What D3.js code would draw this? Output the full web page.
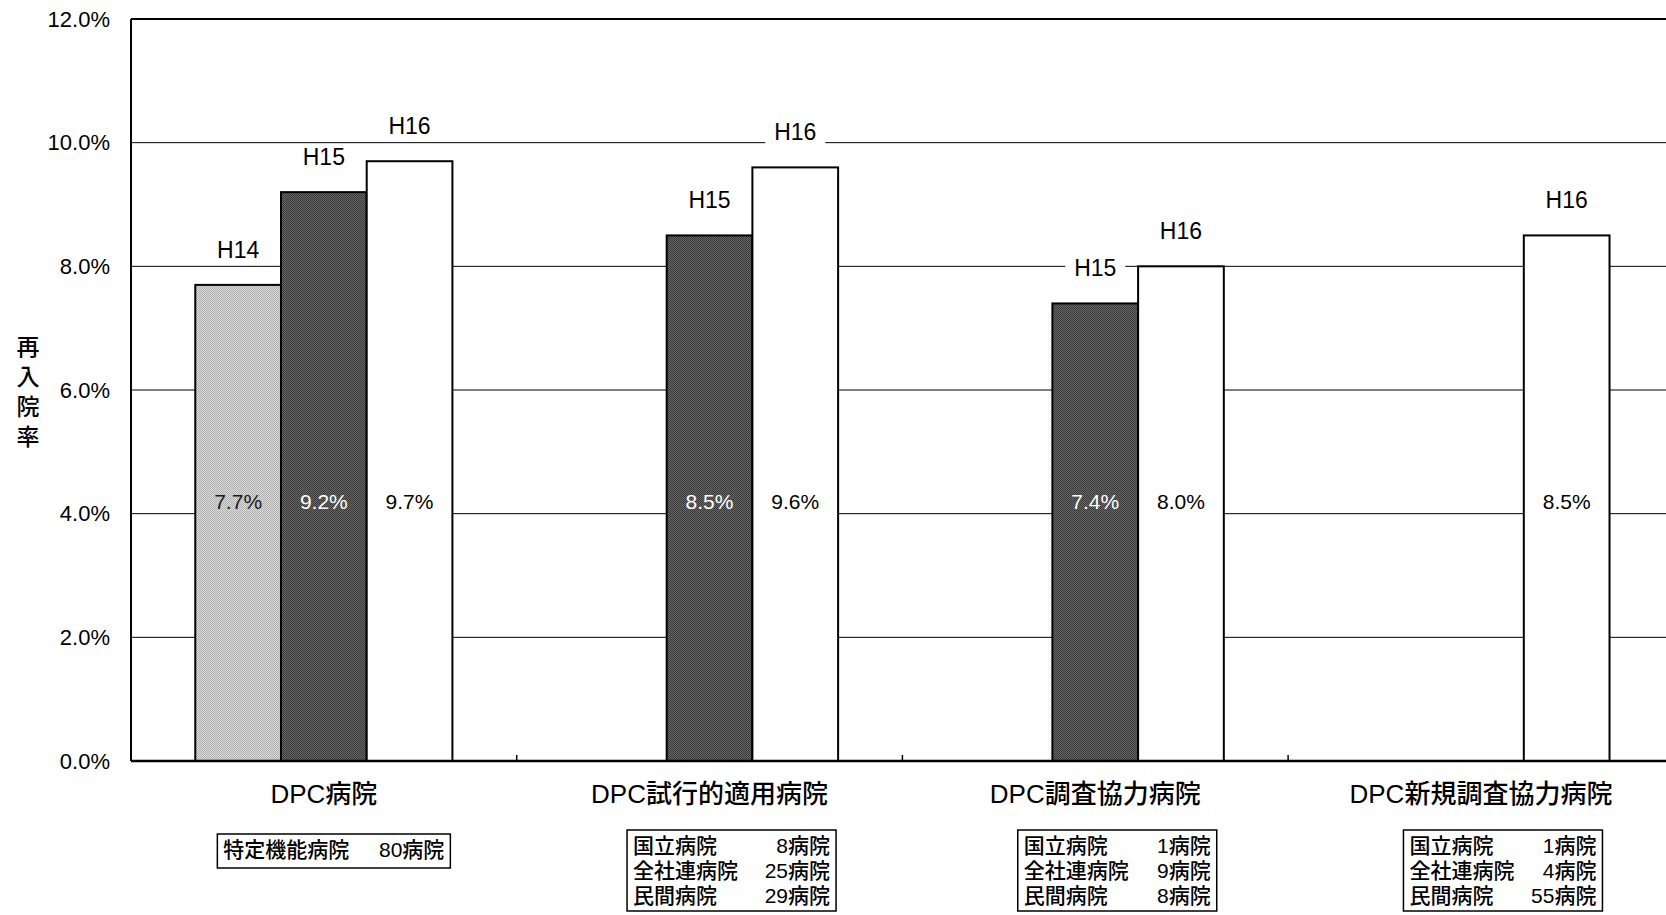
<!DOCTYPE html>
<html>
<head>
<meta charset="utf-8">
<script src="https://cdn.jsdelivr.net/npm/d3@7"></script>
<style>
  body { margin: 0; background: #fff; }
  svg { display: block; font-family: "Liberation Sans", "Noto Sans CJK JP", sans-serif; }
</style>
</head>
<body>
<div id="chart"></div>
<script>
// categories and series
const categories = ["DPC病院", "DPC試行的適用病院", "DPC調査協力病院", "DPC新規調査協力病院"];
const years = ["H14", "H15", "H16"];
const rateH14 = [7.7, null, null, null];
const rateH15 = [9.2, 8.5, 7.4, null];
const rateH16 = [9.7, 9.6, 8.0, 8.5];
const yTicks = [0, 2, 4, 6, 8, 10, 12];

// hospital counts under each category
const hospNames = [["特定機能病院"], ["国立病院", "全社連病院", "民間病院"], ["国立病院", "全社連病院", "民間病院"], ["国立病院", "全社連病院", "民間病院"]];
const hospCounts = [["80病院"], ["8病院", "25病院", "29病院"], ["1病院", "9病院", "8病院"], ["1病院", "4病院", "55病院"]];

const width = 1666, height = 915;
const plotLeft = 131, plotTop = 19, plotBottom = 761;

const svg = d3.select("#chart").append("svg")
  .attr("width", width)
  .attr("height", height);

// checker screen tones, like the scanned original
const defs = svg.append("defs");
function tone(id, base, dot) {
  const p = defs.append("pattern")
    .attr("id", id)
    .attr("width", 2).attr("height", 2)
    .attr("patternUnits", "userSpaceOnUse");
  p.append("rect").attr("width", 2).attr("height", 2).attr("fill", base);
  p.append("rect").attr("x", 0).attr("y", 0).attr("width", 1).attr("height", 1).attr("fill", dot);
  p.append("rect").attr("x", 1).attr("y", 1).attr("width", 1).attr("height", 1).attr("fill", dot);
}
tone("tone14", "#dadada", "#b0b0b0");
tone("tone15", "#666666", "#3a3a3a");

const x = d3.scaleBand()
  .domain(categories)
  .range([plotLeft, plotLeft + 4 * 385.7])
  .paddingInner(1 / 3)
  .paddingOuter(1 / 6);

const xs = d3.scaleBand()
  .domain(years)
  .range([0, x.bandwidth()]);

const y = d3.scaleLinear()
  .domain([0, 12])
  .range([plotBottom, plotTop]);

const fills = { H14: "url(#tone14)", H15: "url(#tone15)", H16: "#ffffff" };
const labelColor = { H14: "#1a1a1a", H15: "#ffffff", H16: "#000000" };

// gridlines
svg.append("g")
  .selectAll("line")
  .data(yTicks.filter(d => d > 0))
  .join("line")
  .attr("x1", plotLeft).attr("x2", width)
  .attr("y1", d => y(d)).attr("y2", d => y(d))
  .attr("stroke", "#000")
  .attr("stroke-width", d => d === 12 ? 2 : 1);

// y tick labels
svg.append("g")
  .selectAll("text")
  .data(yTicks)
  .join("text")
  .attr("x", 110)
  .attr("y", d => y(d))
  .attr("dy", "0.35em")
  .attr("text-anchor", "end")
  .style("font-size", "22px")
  .text(d => d.toFixed(1) + "%");

// y title, stacked vertically
svg.append("g")
  .selectAll("text")
  .data("再入院率".split(""))
  .join("text")
  .attr("x", 28)
  .attr("y", (d, i) => 347 + i * 30)
  .attr("dy", "0.35em")
  .attr("text-anchor", "middle")
  .style("font-size", "23px")
  .style("font-weight", 500)
  .text(d => d);

// bar data
const series = { H14: rateH14, H15: rateH15, H16: rateH16 };
const bars = [];
categories.forEach((c, i) => {
  years.forEach(yr => {
    const v = series[yr][i];
    if (v != null) bars.push({ cat: c, year: yr, value: v });
  });
});

const bx = d => x(d.cat) + xs(d.year);

svg.append("g")
  .selectAll("rect")
  .data(bars)
  .join("rect")
  .attr("x", bx)
  .attr("y", d => y(d.value))
  .attr("width", xs.bandwidth())
  .attr("height", d => plotBottom - y(d.value))
  .attr("fill", d => fills[d.year])
  .attr("stroke", "#000")
  .attr("stroke-width", 2);

// value labels inside bars
svg.append("g")
  .selectAll("text")
  .data(bars)
  .join("text")
  .attr("x", d => bx(d) + xs.bandwidth() / 2)
  .attr("y", y(4.2))
  .attr("dy", "0.35em")
  .attr("text-anchor", "middle")
  .attr("fill", d => labelColor[d.year])
  .style("font-size", "21px")
  .text(d => d.value.toFixed(1) + "%");

// year labels above bars, with white backing that breaks the gridline
const yl = svg.append("g")
  .selectAll("g")
  .data(bars)
  .join("g")
  .attr("transform", d => `translate(${bx(d) + xs.bandwidth() / 2},${y(d.value) - 35})`);
yl.append("rect")
  .attr("x", -30).attr("y", -13)
  .attr("width", 60).attr("height", 26)
  .attr("fill", "#fff");
yl.append("text")
  .attr("dy", "0.35em")
  .attr("text-anchor", "middle")
  .style("font-size", "23px")
  .text(d => d.year);

// axes lines
svg.append("line")
  .attr("x1", plotLeft).attr("x2", plotLeft)
  .attr("y1", plotTop).attr("y2", plotBottom)
  .attr("stroke", "#000").attr("stroke-width", 2);
svg.append("line")
  .attr("x1", plotLeft).attr("x2", width)
  .attr("y1", plotBottom).attr("y2", plotBottom)
  .attr("stroke", "#000").attr("stroke-width", 2.5);

// small ticks at category boundaries
svg.append("g")
  .selectAll("line")
  .data(categories.slice(1))
  .join("line")
  .attr("x1", d => x(d) - x.step() * x.paddingInner() / 2)
  .attr("x2", d => x(d) - x.step() * x.paddingInner() / 2)
  .attr("y1", plotBottom).attr("y2", plotBottom - 6)
  .attr("stroke", "#000").attr("stroke-width", 1.5);

// category labels
svg.append("g")
  .selectAll("text")
  .data(categories)
  .join("text")
  .attr("x", d => x(d) + x.bandwidth() / 2)
  .attr("y", 794)
  .attr("dy", "0.35em")
  .attr("text-anchor", "middle")
  .style("font-size", "26px")
  .style("font-weight", 500)
  .text(d => d);

// hospital boxes
categories.forEach((c, i) => {
  const names = hospNames[i], counts = hospCounts[i];
  const single = names.length === 1;
  const bw = single ? 233 : (i === 1 ? 209 : 199);
  const bh = single ? 34 : 81;
  const cx = x(c) + x.bandwidth() / 2 + (single ? 10 : 22);
  const bx0 = cx - bw / 2;
  const by0 = single ? 834 : 830;
  const g = svg.append("g");
  g.append("rect")
    .attr("x", bx0).attr("y", by0)
    .attr("width", bw).attr("height", bh)
    .attr("fill", "#fff")
    .attr("stroke", "#000").attr("stroke-width", 1.5);
  names.forEach((n, j) => {
    const ty = by0 + 16 + j * 25;
    g.append("text")
      .attr("x", bx0 + 6).attr("y", ty)
      .attr("dy", "0.35em")
      .style("font-size", "21px")
      .style("font-weight", 500)
      .text(n);
    g.append("text")
      .attr("x", bx0 + bw - 6).attr("y", ty)
      .attr("dy", "0.35em")
      .attr("text-anchor", "end")
      .style("font-size", "21px")
      .style("font-weight", 500)
      .text(counts[j]);
  });
});
</script>
</body>
</html>
